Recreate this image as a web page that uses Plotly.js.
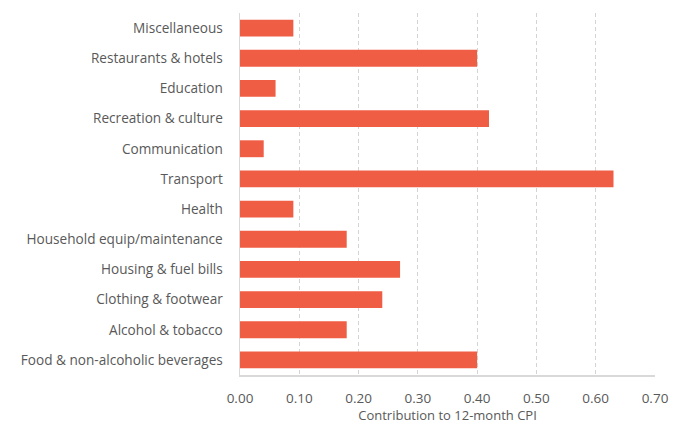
<!DOCTYPE html>
<html>
<head>
<meta charset="utf-8">
<script src="https://cdn.plot.ly/plotly-3.0.1.min.js"></script>
<style>html,body{margin:0;padding:0;background:#fff;}#chart{width:685px;height:424px;}</style>
</head>
<body>
<div id="chart"></div>
<script>
const categories = [
  "Food & non-alcoholic beverages",
  "Alcohol & tobacco",
  "Clothing & footwear",
  "Housing & fuel bills",
  "Household equip/maintenance",
  "Health",
  "Transport",
  "Communication",
  "Recreation & culture",
  "Education",
  "Restaurants & hotels",
  "Miscellaneous"
];
const values = [0.40, 0.18, 0.24, 0.27, 0.18, 0.09, 0.63, 0.04, 0.42, 0.06, 0.40, 0.09];
const tickValues = [0, 0.1, 0.2, 0.3, 0.4, 0.5, 0.6, 0.7];
const tickLabels = ["0.00", "0.10", "0.20", "0.30", "0.40", "0.50", "0.60", "0.70"];
const xTitle = "Contribution to 12-month CPI";

const fontFam = "'Open Sans', 'Noto Sans', sans-serif";
Plotly.newPlot("chart", [{
  type: "bar",
  orientation: "h",
  y: categories,
  x: values,
  marker: {color: "#F05D45"},
  hoverinfo: "x+y"
}], {
  width: 685,
  height: 424,
  margin: {l: 239.5, r: 30, t: 13.4, b: 48.5, pad: 0},
  bargap: 0.44,
  paper_bgcolor: "#fff",
  plot_bgcolor: "#fff",
  showlegend: false,
  font: {family: fontFam, size: 13, color: "#595959"},
  xaxis: {
    range: [0, 0.7],
    tickvals: tickValues,
    ticktext: tickLabels,
    showgrid: true,
    gridcolor: "#d4d4d4",
    griddash: "4px,3px",
    gridwidth: 1,
    zeroline: false,
    showline: true,
    linecolor: "#d9d9d9",
    linewidth: 1.5,
    ticks: "outside",
    ticklen: 10,
    tickcolor: "rgba(0,0,0,0)",
    tickfont: {family: fontFam, size: 13.5, color: "#595959"},
    title: {text: xTitle, standoff: 6, font: {family: fontFam, size: 13, color: "#595959"}},
    fixedrange: true
  },
  yaxis: {
    type: "category",
    categoryorder: "array",
    categoryarray: categories,
    showgrid: false,
    zeroline: false,
    showline: true,
    linecolor: "#d9d9d9",
    linewidth: 1.5,
    ticks: "outside",
    ticklen: 13,
    tickcolor: "rgba(0,0,0,0)",
    tickfont: {family: fontFam, size: 13.6, color: "#595959"},
    fixedrange: true
  }
}, {displayModeBar: false, staticPlot: true});
</script>
</body>
</html>
